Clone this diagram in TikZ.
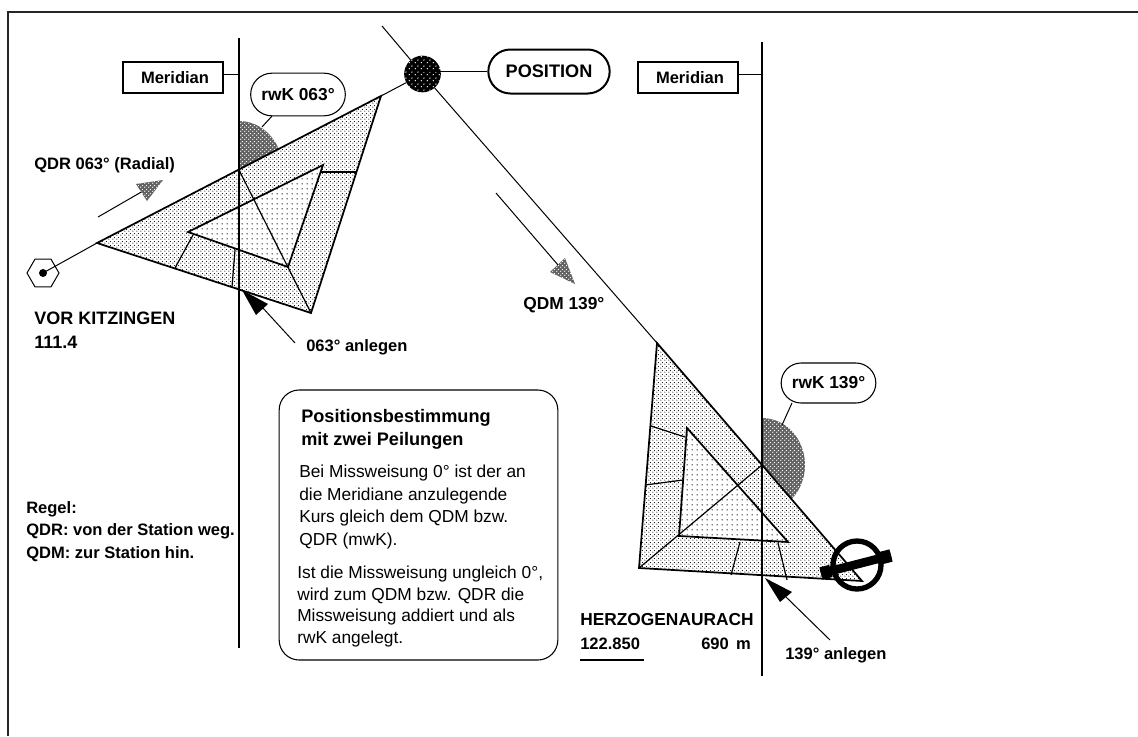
\documentclass[tikz,border=0pt]{standalone}
\usepackage{fontspec}
\setmainfont{Liberation Sans}
\usetikzlibrary{patterns,shapes.geometric,shapes.misc,calc}
\newcommand{\fsz}[2]{\fontsize{#1}{#2}\selectfont}
\pgfdeclarepatternformonly{outerdots}{\pgfqpoint{0pt}{0pt}}{\pgfqpoint{3pt}{3pt}}{\pgfqpoint{3pt}{3pt}}{
  \pgfpathcircle{\pgfqpoint{0.75pt}{0.75pt}}{0.5pt}
  \pgfpathcircle{\pgfqpoint{2.25pt}{2.25pt}}{0.5pt}
  \pgfusepath{fill}}
\pgfdeclarepatternformonly{innerdots}{\pgfqpoint{0pt}{0pt}}{\pgfqpoint{3.75pt}{3.75pt}}{\pgfqpoint{3.75pt}{3.75pt}}{
  \pgfpathcircle{\pgfqpoint{1.875pt}{1.875pt}}{0.6pt}
  \pgfusepath{fill}}
\pgfdeclarepatternformonly{darkdots}{\pgfqpoint{0pt}{0pt}}{\pgfqpoint{3pt}{3pt}}{\pgfqpoint{3pt}{3pt}}{
  \pgfpathcircle{\pgfqpoint{0.75pt}{0.75pt}}{0.6pt}
  \pgfpathcircle{\pgfqpoint{2.25pt}{2.25pt}}{0.6pt}
  \pgfusepath{fill}}
\pgfdeclarepatternformonly{posdots}{\pgfqpoint{0pt}{0pt}}{\pgfqpoint{4.5pt}{4.5pt}}{\pgfqpoint{4.5pt}{4.5pt}}{
  \pgfpathcircle{\pgfqpoint{1.125pt}{1.125pt}}{0.6pt}
  \pgfpathcircle{\pgfqpoint{3.375pt}{3.375pt}}{0.6pt}
  \pgfusepath{fill}}
\tikzset{
  thinline/.style={draw=black,line width=0.75pt},
  edge/.style={draw=black,line width=1.3pt,line join=miter},
  tickline/.style={draw=black,line width=0.9pt},
  meridianline/.style={draw=black,line width=2.2pt},
  outertri/.style={edge,preaction={fill=white},pattern=outerdots,pattern color=black},
  innertri/.style={edge,preaction={fill=white},pattern=innerdots,pattern color=black},
  darkfill/.style={preaction={fill=black!62},pattern=darkdots,pattern color=white},
  boldtext/.style={font=\bfseries\fsz{12.4}{15},inner sep=0pt,text=black},
  labelbox/.style={draw=black,line width=0.8pt,fill=white,minimum width=75pt,minimum height=23.25pt,inner sep=0pt,boldtext},
  bubble/.style={draw=black,line width=0.8pt,fill=white,rounded rectangle,minimum width=71pt,minimum height=31pt,inner sep=0pt,font=\bfseries\fsz{13}{15},text=black},
  bodytext/.style={inner sep=0pt,align=left,anchor=north west,text=black},
}
\begin{document}
\begin{tikzpicture}[x=0.75pt,y=-0.75pt]
\useasboundingbox (0,0) rectangle (1138,736);
\fill[white] (0,0) rectangle (1138,736);
% frame
\coordinate (fb) at (8,736);
\coordinate (ft) at (8,12);
\coordinate (fr) at (1138,12);
\draw[line width=1.5pt,draw=black!85] (fb) -- (ft) -- (fr);
% construction points
\coordinate (a1) at (381,96);
\coordinate (b1) at (97,243);
\coordinate (c1) at (311,313);
\coordinate (m1x) at (239,170);
\coordinate (a2) at (657,343);
\coordinate (b2) at (639,568);
\coordinate (c2) at (862,581);
\coordinate (m2x) at (762,465);
% sectors
\path[darkfill] (m1x) -- (239,121) arc[start angle=-90,end angle=-26,x radius=44,y radius=49] -- cycle;
\path[darkfill] (m2x) -- (762,418) arc[start angle=-90,end angle=46,x radius=43,y radius=47] -- cycle;
% triangle 1
\path[outertri] (a1) -- (b1) -- (c1) -- cycle;
\path[innertri] (323,165) -- (188,232) -- (288,267) -- cycle;
\draw[tickline] (m1x) -- (c1);
\draw[tickline] (321,172) -- (356,172);
\draw[tickline] (193,235) -- (175,268);
\draw[tickline] (235,250) -- (232,287);
% triangle 2
\path[outertri] (a2) -- (b2) -- (c2) -- cycle;
\path[innertri] (687,428) -- (679,536) -- (788,542) -- cycle;
\draw[tickline] (m2x) -- (b2);
\draw[tickline] (651,426) -- (685,437);
\draw[tickline] (645,485) -- (683,480);
\draw[tickline] (740,542) -- (731,575);
\draw[tickline] (778,543) -- (787,580);
% rays
\node[regular polygon,regular polygon sides=6,minimum size=24pt,inner sep=0pt,draw=black,line width=0.75pt,fill=white] (hex) at (43,273) {};
\node[circle,fill=black,minimum size=6pt,inner sep=0pt] (hexdot) at (43,273) {};
\node[circle,minimum size=27.5pt,inner sep=0pt,preaction={fill=black},pattern=posdots,pattern color=white] (pos) at (422.5,74) {};
\coordinate (rayA) at (382,26);
\draw[thinline] (hexdot.center) -- (b1);
\draw[thinline] (a1) -- (pos);
\draw[thinline] (rayA) -- (pos);
\draw[thinline] (pos) -- (a2);
% meridians
\coordinate (m1t) at (239,38);
\coordinate (m1b) at (239,648);
\coordinate (m2t) at (762,42);
\coordinate (m2b) at (762,676);
\draw[meridianline] (m1t) -- (m1b);
\draw[meridianline] (m2t) -- (m2b);
% labels with leaders
\node[labelbox] (mer1) at (173,77.5) {\hspace*{3pt}Meridian};
\node[labelbox] (mer2) at (688,77.5) {\hspace*{3pt}Meridian};
\draw[thinline] ([yshift=1.9pt]mer1.east) -- ([yshift=1.9pt]mer1.east -| m1t);
\draw[thinline] ([yshift=1.9pt]mer2.east) -- ([yshift=1.9pt]mer2.east -| m2t);
\node[bubble,minimum height=32pt] (rwk1) at (298,94.5) {rwK 063°};
\coordinate (rwk1end) at (262,127);
\draw[thinline] (272,116) -- (rwk1end);
\node[bubble,minimum height=30pt] (rwk2) at (828.5,383) {rwK 139°};
\coordinate (rwk2end) at (782,425);
\draw[thinline] (792,403) -- (rwk2end);
\node[bubble,line width=1.5pt,minimum width=91pt,minimum height=33pt,font=\bfseries\fsz{13.6}{16}] (posb) at (549,71.5) {POSITION};
\draw[thinline] (posb.west) -- (posb.west -| pos);
% direction arrows
\coordinate (q1s) at (98,217);
\coordinate (q1t) at (150,187);
\draw[thinline] (q1s) -- (q1t);
\path[darkfill] (163,180) -- (136,184) -- (147,201) -- cycle;
\coordinate (q2s) at (496,193);
\coordinate (q2t) at (558,265);
\draw[thinline] (q2s) -- (q2t);
\path[darkfill] (575,284) -- (565,258) -- (550,272) -- cycle;
\coordinate (l1s) at (295,343);
\coordinate (l1t) at (262,307);
\draw[thinline] (l1s) -- (l1t);
\fill[black] (242,290) -- (268,304) -- (256,315) -- cycle;
\coordinate (l2s) at (830,640);
\coordinate (l2t) at (786,597);
\draw[thinline] (l2s) -- (l2t);
\fill[black] (765,578) -- (792,592) -- (780,602) -- cycle;
% airfield symbol
\node[circle,draw=black,line width=4pt,minimum size=36pt,inner sep=0pt] (field) at (857,565) {};
\coordinate (barL) at (821,573.5);
\coordinate (barR) at (891,555.5);
\draw[black,line width=6.5pt] (barL) -- (barR);
\draw[black,line width=9.5pt] (barL) -- ($(barL)!0.14!(barR)$);
\draw[black,line width=9.5pt] (barR) -- ($(barR)!0.14!(barL)$);
% texts
\node[boldtext,anchor=west] (qdr) at (34,165) {QDR 063° (Radial)};
\node[boldtext,anchor=north west,align=left,font=\bfseries\fsz{13.5}{18}] (vor) at (34,312) {VOR KITZINGEN\\111.4};
\node[boldtext,anchor=west] (anl1) at (306,347) {063° anlegen};
\node[boldtext,anchor=west,font=\bfseries\fsz{13}{15}] (qdm) at (523,305) {QDM 139°};
\node[boldtext,anchor=west] (anl2) at (785,655) {139° anlegen};
\node[boldtext,anchor=west,font=\bfseries\fsz{13}{15}] (herz) at (580,620) {HERZOGENAURACH};
\node[boldtext,anchor=west] (freq) at (580,644) {122.850};
\node[boldtext,anchor=west] (elev) at (701,644) {690\, m};
\coordinate (ulL) at (580,660);
\coordinate (ulR) at (644,660);
\draw[black,line width=1.6pt] (ulL) -- (ulR);
\node[boldtext,anchor=north west,align=left,font=\bfseries\fsz{12.4}{17}] (regel) at (26,501) {Regel:\\QDR: von der Station weg.\\QDM: zur Station hin.};
% info box
\node[draw=black,line width=0.8pt,rounded corners=15pt,minimum width=209pt,minimum height=202.5pt,inner sep=0pt] (info) at (418.5,525) {};
\node[boldtext,anchor=north west,align=left,font=\bfseries\fsz{13.6}{17.2}] (title) at (301,409) {Positionsbestimmung\\mit zwei Peilungen};
\node[bodytext,font=\fsz{13}{16.9}] (p1) at (299,465) {Bei Missweisung 0° ist der an\\die Meridiane anzulegende\\Kurs gleich dem QDM bzw.\\QDR (mwK).};
\node[bodytext,font=\fsz{13}{16.1}] (p2) at (297,566) {Ist die Missweisung ungleich 0°,\\wird zum QDM bzw. QDR die\\Missweisung addiert und als\\rwK angelegt.};
\end{tikzpicture}
\end{document}
